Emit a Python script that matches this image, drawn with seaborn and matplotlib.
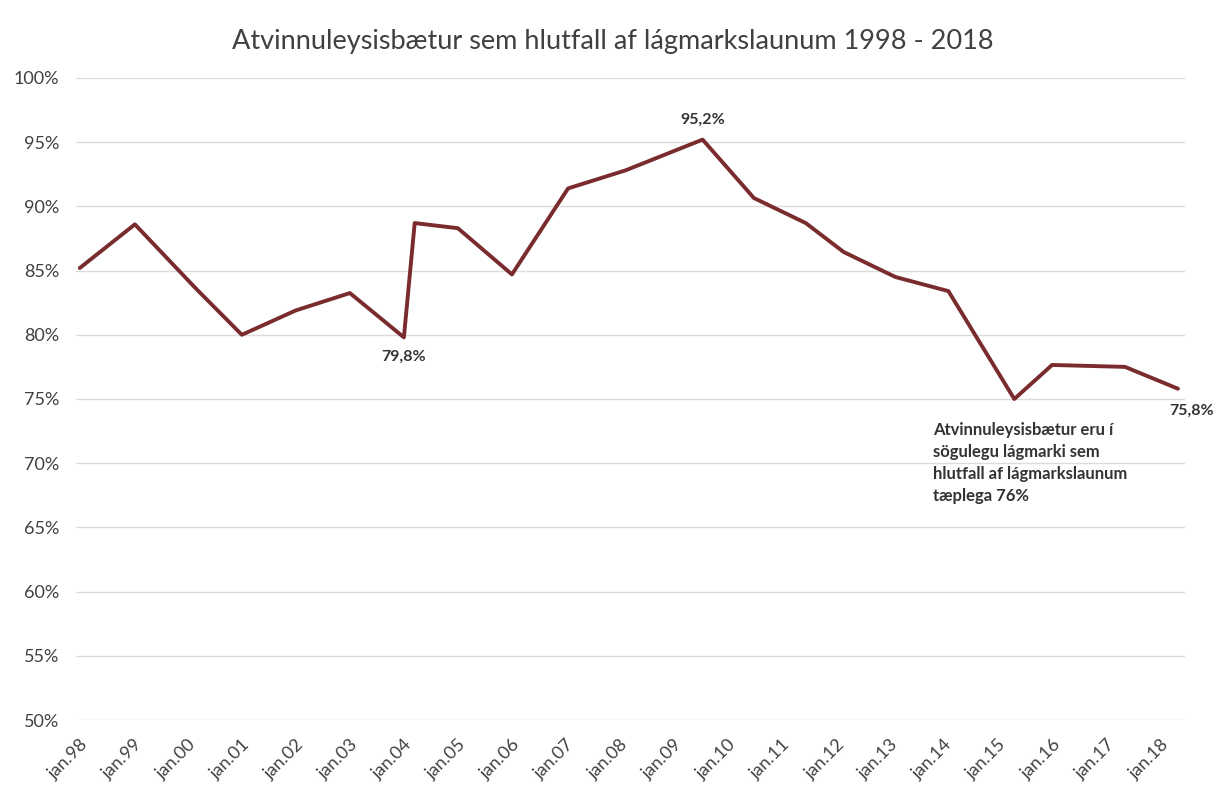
import matplotlib
matplotlib.use('Agg')
import matplotlib.pyplot as plt
import seaborn as sns
import pandas as pd
from matplotlib.ticker import FuncFormatter

# Values (year as decimal, percent of minimum wage)
years = [1998.0, 1999.02, 2000.15, 2001.0, 2002.0, 2003.0, 2004.0, 2004.2,
         2005.0, 2006.0, 2007.04, 2008.1, 2009.53, 2010.48, 2011.44, 2012.14,
         2013.1, 2014.08, 2015.3, 2016.0, 2017.35, 2018.33]
pct = [85.2, 88.6, 83.6, 80.0, 81.9, 83.25, 79.8, 88.7,
       88.3, 84.7, 91.4, 92.8, 95.2, 90.65, 88.7, 86.45,
       84.5, 83.4, 75.0, 77.65, 77.5, 75.8]

tick_years = list(range(1998, 2019))
tick_labels = ['jan.%02d' % (y % 100) for y in tick_years]

# Labelled points: (index into data, text, offset in points)
labelled = [(6, '79,8%', (0, -14)), (12, '95,2%', (0, 14)), (21, '75,8%', (10, -16))]
note = 'Atvinnuleysisbætur eru í\nsögulegu lágmarki sem\nhlutfall af lágmarkslaunum\ntæplega 76%'

df = pd.DataFrame({'year': years, 'pct': pct})

sns.set_style('white')
plt.rcParams['font.family'] = ['Lato', 'DejaVu Sans']

fig = plt.figure(figsize=(12.16, 7.9), dpi=100)
ax = fig.add_axes([0.0625, 0.0886, 0.912, 0.8127])

sns.lineplot(data=df, x='year', y='pct', ax=ax, color='#7a2b2e', linewidth=2.8, sort=False)

ax.set_xlim(1997.93, 2018.46)
ax.set_ylim(50, 100)
ax.set_yticks(range(50, 101, 5))
ax.yaxis.set_major_formatter(FuncFormatter(lambda v, p: '%d%%' % v))
ax.set_xticks(tick_years)
ax.set_xticklabels(tick_labels, rotation=45, ha='right', rotation_mode='anchor')
ax.tick_params(axis='x', labelsize=13, labelcolor='#404040', length=0, pad=12)
ax.tick_params(axis='y', labelsize=13, labelcolor='#404040', length=0, pad=12)
ax.yaxis.grid(True, color='#dcdcdc', linewidth=1)
ax.xaxis.grid(False)
for s in ax.spines.values():
    s.set_visible(False)
ax.set_xlabel('')
ax.set_ylabel('')

for i, txt, off in labelled:
    ax.annotate(txt, xy=(years[i], pct[i]), xytext=off, textcoords='offset points',
                ha='center', va='center', fontsize=11.5, fontweight='bold', color='#333333')

ax.text(2013.8, 73.2, note, ha='left', va='top', fontsize=12, fontweight='bold',
        color='#333333', linespacing=1.45)

fig.text(0.504, 0.947, 'Atvinnuleysisbætur sem hlutfall af lágmarkslaunum 1998 - 2018',
         ha='center', va='center', fontsize=19.5, color='#404040')

fig.savefig('out.png', dpi=100, facecolor='white')
